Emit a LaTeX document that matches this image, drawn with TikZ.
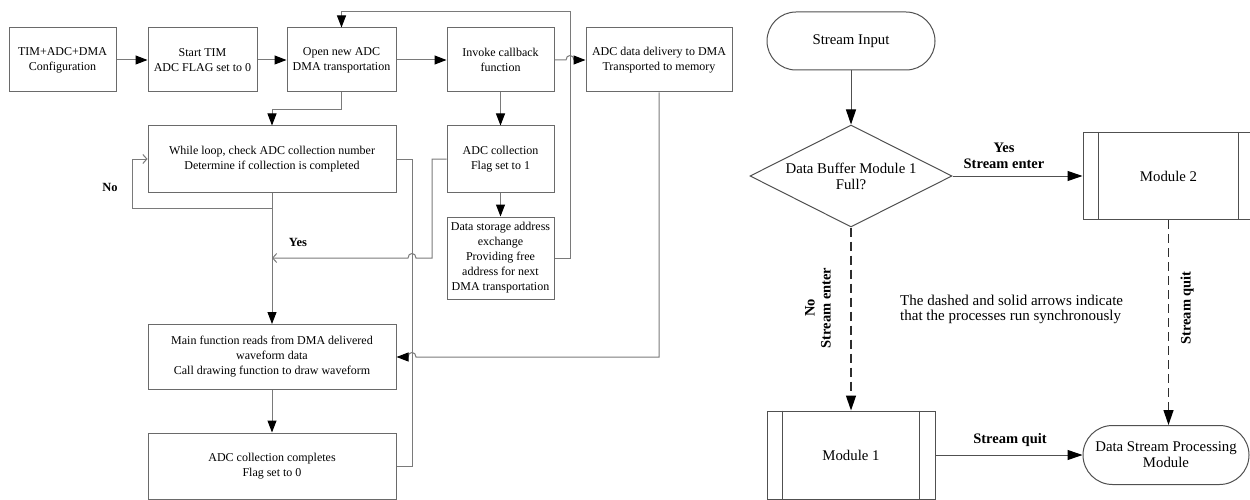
\documentclass[tikz,border=0pt]{standalone}
\usepackage{fontspec}
\setmainfont{Liberation Serif}
\usetikzlibrary{arrows.meta,shapes.geometric,calc}
\definecolor{lc}{HTML}{7A7A7A}
\definecolor{bc}{HTML}{6A6A6A}
\definecolor{rc}{HTML}{505050}
\definecolor{dc}{HTML}{2E2E2E}
\newcommand\lfnt{\fontsize{12}{15}\selectfont}
\newcommand\rfnt{\fontsize{14.8}{16}\selectfont}
\begin{document}
\begin{tikzpicture}[x=1pt,y=-1pt,
  box/.style={draw=bc, line width=1pt, rectangle, inner sep=0pt, align=center, font=\lfnt},
  rbox/.style={draw=rc, line width=1pt, rectangle, inner sep=0pt, align=center, font=\rfnt},
  conn/.style={draw=lc, line width=1pt},
  rconn/.style={draw=rc, line width=1pt},
  arr/.style={conn, -{Triangle[length=12pt,width=9pt,black]}},
  rarr/.style={rconn, -{Triangle[length=15pt,width=10pt,black]}},
  openarr/.style={conn, -{Straight Barb[length=4pt,width=9pt,lc]}},
  dashedline/.style={draw=dc, line width=1.3pt, dash pattern=on 9pt off 5pt},
  lbl/.style={font=\fontsize{12.5}{15}\selectfont\bfseries, inner sep=0pt},
  rlbl/.style={font=\fontsize{14.5}{16}\selectfont\bfseries, inner sep=0pt, align=center},
]
\useasboundingbox (0,0) rectangle (1250,500);

% ---------- left flowchart ----------
\node[box, minimum width=107pt, minimum height=64pt] (A) at (62.5,60) {TIM+ADC+DMA\\Configuration};
\node[box, minimum width=109pt, minimum height=64pt] (B) at (202.5,60) {Start TIM\\ADC FLAG set to 0};
\node[box, minimum width=109pt, minimum height=64pt] (C) at (341.5,60) {Open new ADC\\DMA transportation};
\node[box, minimum width=107pt, minimum height=64pt] (D) at (500.5,60) {Invoke callback\\function};
\node[box, minimum width=146pt, minimum height=64pt] (E) at (659,60) {ADC data delivery to DMA\\Transported to memory};
\node[box, minimum width=248pt, minimum height=66pt] (H) at (272,159) {While loop, check ADC collection number\\Determine if collection is completed};
\node[box, minimum width=107pt, minimum height=66pt] (G) at (500.5,159) {ADC collection\\Flag set to 1};
\node[box, minimum width=107pt, minimum height=82pt] (F) at (500.5,258) {Data storage address\\exchange\\Providing free\\address for next\\DMA transportation};
\node[box, minimum width=248pt, minimum height=65pt] (I) at (272,357) {Main function reads from DMA delivered\\waveform data\\Call drawing function to draw waveform};
\node[box, minimum width=248pt, minimum height=66pt] (J) at (272,466) {ADC collection completes\\Flag set to 0};

\coordinate (hop1) at (570,60);
\coordinate (tr) at (570,12);
\coordinate (nl) at (132,208);
\coordinate (nj) at (272,208);
\coordinate (yk) at (432,258);
\coordinate (yh) at (412,258);
\coordinate (yj) at (272,258);
\coordinate (eh) at (412,357);

\draw[arr] (A.east) -- (B.west);
\draw[arr] (B.east) -- (C.west);
\draw[arr] (C.east) -- (D.west);
\draw[arr] (D.east) -- ($(hop1)+(-4,0)$) .. controls ($(hop1)+(-4,-6)$) and ($(hop1)+(4,-6)$) .. ($(hop1)+(4,0)$) -- (E.west);
\draw[arr] (D.south) -- (G.north);
\draw[arr] (G.south) -- (F.north);
\draw[arr] (F.east) -| (tr) -| (C.north);
\draw[arr] (C.south) -- ++(0,17) -| (H.north);
\draw[arr] (H.south) -- (I.north);
\draw[openarr] (nj) -- (nl) |- (H.west);
\draw[openarr] (G.west) -- (G.west -| yk) -- (yk) -- ($(yh)+(4,0)$) .. controls ($(yh)+(4,-6)$) and ($(yh)+(-4,-6)$) .. ($(yh)+(-4,0)$) -- (yj);
\draw[conn] (H.east) -- ++(16,0) |- (J.east);
\draw[arr] (E.south) |- ($(eh)+(4,0)$) .. controls ($(eh)+(4,-6)$) and ($(eh)+(-4,-6)$) .. ($(eh)+(-4,0)$) -- (I.east);
\draw[arr] (I.south) -- (J.north);

\node[lbl] (lno1) at (110,187) {No};
\node[lbl] (lyes1) at (298,242) {Yes};

% ---------- right flowchart ----------
\node[rbox, rounded corners=29pt, minimum width=168pt, minimum height=58pt] (SI) at (851,41) {Stream Input};
\node[diamond, draw=rc, line width=1pt, inner sep=0pt, aspect=2, minimum width=202pt, minimum height=102pt, align=center, font=\rfnt] (Dia) at (851,176) {Data Buffer Module 1\\Full?};
\node[rbox, minimum width=171pt, minimum height=87pt] (M2) at (1168.5,176) {Module 2};
\node[rbox, minimum width=168pt, minimum height=88pt] (M1) at (851,455) {Module 1};
\node[rbox, rounded corners=29.5pt, minimum width=166pt, minimum height=59pt] (DSP) at (1166,455) {Data Stream Processing\\Module};

\draw[rconn] ([xshift=16pt]M2.north west) -- ([xshift=16pt]M2.south west);
\draw[rconn] ([xshift=-16pt]M2.north east) -- ([xshift=-16pt]M2.south east);
\draw[rconn] ([xshift=16pt]M1.north west) -- ([xshift=16pt]M1.south west);
\draw[rconn] ([xshift=-16pt]M1.north east) -- ([xshift=-16pt]M1.south east);

\draw[rarr] (SI.south) -- (Dia.north);
\draw[rarr] (Dia.east) -- (Dia.east -| M2.west);
\draw[rarr, dashedline] (Dia.south) -- (M1.north);
\draw[rarr, dashedline] (M2.south) -- (M2.south |- DSP.north);
\draw[rarr] (M1.east) -- (DSP.west);

\node[rlbl] (lyes2) at (1004,156) {Yes\\Stream enter};
\node[rlbl, rotate=90] (lno2) at (818,308) {No\\Stream enter};
\node[rlbl, rotate=90] (lq2) at (1187,308) {Stream quit};
\node[rlbl] (lq1) at (1010,440) {Stream quit};
\node[font=\fontsize{15}{15.5}\selectfont, align=left, anchor=west, inner sep=0pt] (note) at (900,309.5) {The dashed and solid arrows indicate\\that the processes run synchronously};
\end{tikzpicture}
\end{document}
